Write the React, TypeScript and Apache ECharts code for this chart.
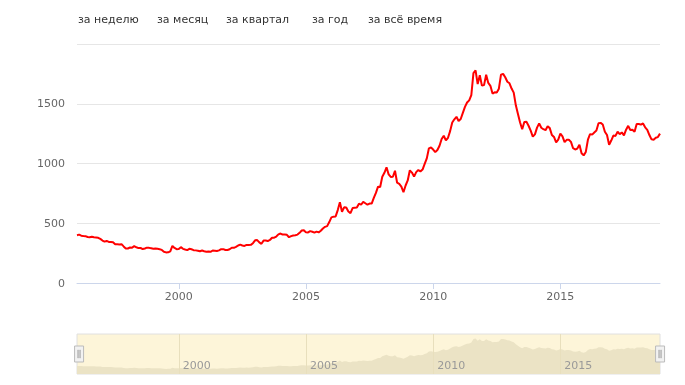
import React, { useEffect, useRef } from "react";
import * as echarts from "echarts";

// Monthly gold price, USD / oz (Jan..Dec)
const p1996 = [400, 405, 396, 393, 392, 385, 383, 387, 383, 381, 378, 369];
const p1997 = [355, 346, 352, 344, 344, 341, 324, 324, 323, 325, 306, 289];
const p1998 = [289, 297, 296, 308, 299, 292, 293, 284, 289, 296, 294, 291];
const p1999 = [287, 288, 286, 282, 277, 262, 256, 257, 265, 311, 293, 283];
const p2000 = [284, 300, 286, 280, 275, 286, 282, 275, 273, 270, 266, 272];
const p2001 = [266, 262, 263, 261, 272, 270, 268, 273, 283, 283, 276, 276];
const p2002 = [282, 295, 294, 302, 314, 321, 314, 310, 319, 317, 319, 333];
const p2003 = [357, 359, 340, 328, 355, 356, 351, 360, 379, 379, 389, 407];
const p2004 = [414, 405, 406, 403, 383, 392, 398, 400, 405, 420, 439, 442];
const p2005 = [424, 423, 434, 429, 422, 430, 424, 437, 456, 470, 476, 510];
const p2006 = [549, 555, 557, 610, 676, 596, 633, 632, 598, 585, 627, 629];
const p2007 = [631, 664, 655, 679, 667, 655, 665, 665, 712, 754, 806, 803];
const p2008 = [889, 922, 968, 909, 888, 889, 939, 839, 829, 806, 760, 816];
const p2009 = [858, 943, 924, 890, 928, 945, 934, 949, 996, 1043, 1127, 1134];
const p2010 = [1117, 1095, 1113, 1148, 1205, 1232, 1193, 1215, 1271, 1343, 1370, 1391];
const p2011 = [1356, 1372, 1424, 1474, 1510, 1528, 1572, 1756, 1780, 1665, 1739, 1652];
const p2012 = [1656, 1743, 1674, 1650, 1585, 1596, 1594, 1626, 1744, 1750, 1722, 1684];
const p2013 = [1671, 1627, 1593, 1487, 1414, 1343, 1286, 1347, 1349, 1316, 1275, 1225];
const p2014 = [1244, 1300, 1336, 1299, 1287, 1279, 1311, 1296, 1239, 1222, 1176, 1200];
const p2015 = [1251, 1227, 1179, 1198, 1199, 1181, 1128, 1117, 1125, 1157, 1086, 1068];
const p2016 = [1097, 1199, 1246, 1242, 1260, 1276, 1337, 1340, 1326, 1266, 1238, 1157];
const p2017 = [1192, 1234, 1231, 1266, 1246, 1260, 1236, 1283, 1315, 1280, 1282, 1265];
const p2018 = [1331, 1331, 1325, 1335, 1303, 1282, 1238, 1202, 1199, 1215, 1221, 1250];

const yearBlocks: [number, number[]][] = [
  [1996, p1996], [1997, p1997], [1998, p1998], [1999, p1999], [2000, p2000],
  [2001, p2001], [2002, p2002], [2003, p2003], [2004, p2004], [2005, p2005],
  [2006, p2006], [2007, p2007], [2008, p2008], [2009, p2009], [2010, p2010],
  [2011, p2011], [2012, p2012], [2013, p2013], [2014, p2014], [2015, p2015],
  [2016, p2016], [2017, p2017], [2018, p2018],
];

const yearTicks = [2000, 2005, 2010, 2015];
const rangeButtons = ["за неделю", "за месяц", "за квартал", "за год", "за всё время"];
const rangeButtonX = [78, 157, 226, 312, 368];

const FONT = "DejaVu Sans";
const plain = (v: number) => String(v);

export default function App() {
  const ref = useRef<HTMLDivElement>(null);
  useEffect(() => {
    if (!ref.current) return;
    const chart = echarts.init(ref.current, null, { renderer: "svg" });
    const data: [number, number][] = [];
    yearBlocks.forEach(([y, arr]) => {
      arr.forEach((v, m) => data.push([y + m / 12, v]));
    });
    const xMin = data[0][0];
    const xMax = data[data.length - 1][0];

    chart.setOption({
      animation: false,
      textStyle: { fontFamily: FONT },
      grid: [
        { left: 77, right: 25, top: 44, height: 239 },
        {
          left: 77, right: 25, top: 334, height: 40, show: true,
          backgroundColor: "#fdf5d9", borderColor: "#e0e0e0", borderWidth: 1,
        },
      ],
      xAxis: [
        {
          type: "value", gridIndex: 0, min: xMin, max: xMax,
          axisLine: { show: true, lineStyle: { color: "#ccd6eb", width: 1 } },
          axisTick: { show: true, customValues: yearTicks, length: 6, lineStyle: { color: "#ccd6eb" } },
          axisLabel: { customValues: yearTicks, formatter: plain, color: "#666", fontSize: 11, margin: 8, fontFamily: FONT },
          splitLine: { show: false },
        },
        {
          type: "value", gridIndex: 1, min: xMin, max: xMax, z: 5,
          axisLine: { show: false },
          axisTick: { show: true, customValues: yearTicks, inside: true, length: 40, lineStyle: { color: "#e8dfbd" } },
          axisLabel: {
            customValues: yearTicks, formatter: plain, inside: true, align: "left", color: "#999",
            fontSize: 11, margin: 3, padding: [0, 0, 0, 4], fontFamily: FONT,
          },
          splitLine: { show: false },
        },
      ],
      yAxis: [
        {
          type: "value", gridIndex: 0, min: 0, max: 2000, interval: 500,
          axisLine: { show: false }, axisTick: { show: false },
          axisLabel: { formatter: plain, color: "#666", fontSize: 11, margin: 12, showMaxLabel: false, fontFamily: FONT },
          splitLine: { show: true, lineStyle: { color: "#e6e6e6", width: 1 } },
        },
        {
          type: "value", gridIndex: 1, min: 0, max: 2000, show: false,
          splitLine: { show: false },
        },
      ],
      dataZoom: [
        {
          type: "slider", xAxisIndex: 1, filterMode: "none", start: 0, end: 100,
          left: 77, right: 25, top: 334, height: 40,
          showDetail: false, showDataShadow: false, brushSelect: false, moveHandleSize: 0,
          backgroundColor: "rgba(0,0,0,0)", borderColor: "rgba(0,0,0,0)", fillerColor: "rgba(0,0,0,0)",
          handleIcon: "path://M0,0h9v16h-9z M3.2,4h0.6v8h-0.6z M5.2,4h0.6v8h-0.6z",
          handleSize: "40%",
          handleStyle: { color: "#f2f2f2", borderColor: "#bbb", borderWidth: 1 },
          emphasis: { handleStyle: { color: "#f2f2f2", borderColor: "#bbb", borderWidth: 1 } },
        },
      ],
      graphic: rangeButtons.map((t, i) => ({
        type: "text", left: rangeButtonX[i], top: 14,
        style: { text: t, fill: "#333", font: `11px "${FONT}"` },
      })),
      series: [
        {
          type: "line", xAxisIndex: 0, yAxisIndex: 0, data, showSymbol: false,
          lineStyle: { color: "#ff0000", width: 2 }, itemStyle: { color: "#ff0000" },
        },
        {
          type: "line", xAxisIndex: 1, yAxisIndex: 1, data, showSymbol: false, z: 1,
          lineStyle: { width: 0, color: "#e9e0c0" },
          areaStyle: { color: "#ebe3c5", opacity: 1 },
        },
      ],
    });
    return () => chart.dispose();
  }, []);
  return <div ref={ref} style={{ position: "fixed", left: 0, top: 0, width: 685, height: 385 }} />;
}
